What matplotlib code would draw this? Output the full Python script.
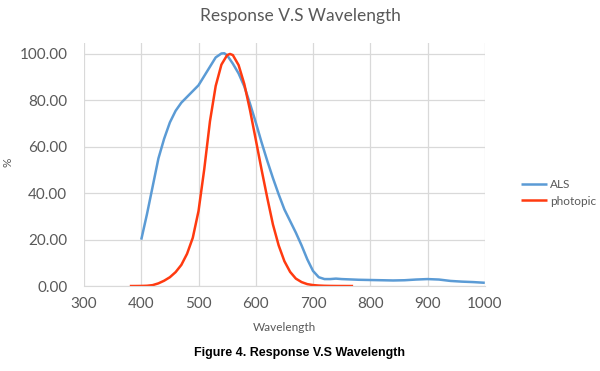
import numpy as np
import matplotlib
matplotlib.use("Agg")
import matplotlib.pyplot as plt

# ALS response
als_wl = [400, 410, 420, 430, 440, 450, 460, 470, 480, 490, 500, 510, 520, 530, 540, 545,
          550, 560, 570, 580, 590, 600, 610, 620, 630, 640, 650, 660, 670, 680, 690, 700,
          710, 720, 730, 740, 750, 760, 780, 800, 820, 840, 860, 880, 900, 920, 940, 960,
          980, 1000]
als_val = [20, 31, 43, 55, 63.5, 70.5, 75.5, 79, 81.5, 84, 86.5, 90.5, 94.5, 98.5, 100.2, 100.3,
           99.4, 95.8, 91.6, 86, 78.5, 70.5, 62, 54, 46.5, 39.5, 33, 28, 23, 17.5, 11.5, 6.5,
           3.8, 3, 3, 3.2, 3, 2.9, 2.7, 2.6, 2.5, 2.4, 2.5, 2.8, 3, 2.8, 2.2, 1.9,
           1.7, 1.4]

# photopic curve
ph_wl = [380, 390, 400, 410, 420, 430, 440, 450, 460, 470, 480, 490, 500, 510, 520, 530,
         540, 550, 555, 560, 570, 580, 590, 600, 610, 620, 630, 640, 650, 660, 670, 680,
         690, 700, 710, 720, 730, 740, 750, 760, 770]
ph_val = [0.004, 0.012, 0.04, 0.12, 0.4, 1.16, 2.3, 3.8, 6.0, 9.1, 13.9, 20.8, 32.3, 50.3, 71.0, 86.2,
          95.4, 99.5, 100, 99.5, 95.2, 87.0, 75.7, 63.1, 50.3, 38.1, 26.5, 17.5, 10.7, 6.1, 3.2, 1.7,
          0.82, 0.41, 0.21, 0.1, 0.05, 0.025, 0.012, 0.006, 0.003]

xticks = [300, 400, 500, 600, 700, 800, 900, 1000]
yticks = [0, 20, 40, 60, 80, 100]

grey = "#595959"
plt.rcParams['font.family'] = ['Lato', 'DejaVu Sans']

fig = plt.figure(figsize=(6, 3.71), dpi=100)
ax = fig.add_axes([0.14, 0.229, 0.668, 0.655])

ax.plot(als_wl, als_val, color="#5B9BD5", lw=1.8, label="ALS", solid_capstyle="butt")
ax.plot(ph_wl, ph_val, color="#FF3A10", lw=1.8, label="photopic", solid_capstyle="butt")

ax.set_xlim(300, 1000)
ax.set_ylim(0, 104.7)
ax.set_xticks(xticks)
ax.set_yticks(yticks)
ax.set_yticklabels(["%.2f" % v for v in yticks])
ax.grid(True, color="#D9D9D9", lw=0.9)
ax.set_axisbelow(True)
for s in ["top", "right", "left"]:
    ax.spines[s].set_visible(False)
ax.spines["bottom"].set_color("#D9D9D9")
ax.tick_params(length=0, labelsize=11, colors=grey, pad=8)
ax.tick_params(axis="y", pad=12)

ax.set_xlabel("Wavelength", fontsize=8.5, color=grey, labelpad=8)
fig.text(0.013, 0.563, "%", fontsize=8.5, color=grey, rotation=90, va="center", ha="center")
fig.text(0.5, 0.958, "Response V.S Wavelength", fontsize=12.5, color=grey, ha="center", va="center")

fig.legend(loc="center left", bbox_to_anchor=(0.868, 0.48), frameon=False, fontsize=8.5,
           borderaxespad=0, borderpad=0,
           handlelength=2.25, handletextpad=0.25, labelspacing=0.45, labelcolor=grey)

fig.text(0.5, 0.048, "Figure 4. Response V.S Wavelength", fontsize=9, fontweight="bold",
         family=["Liberation Sans", "DejaVu Sans"], ha="center", va="center", color="black")

fig.savefig("out.png", dpi=100)
